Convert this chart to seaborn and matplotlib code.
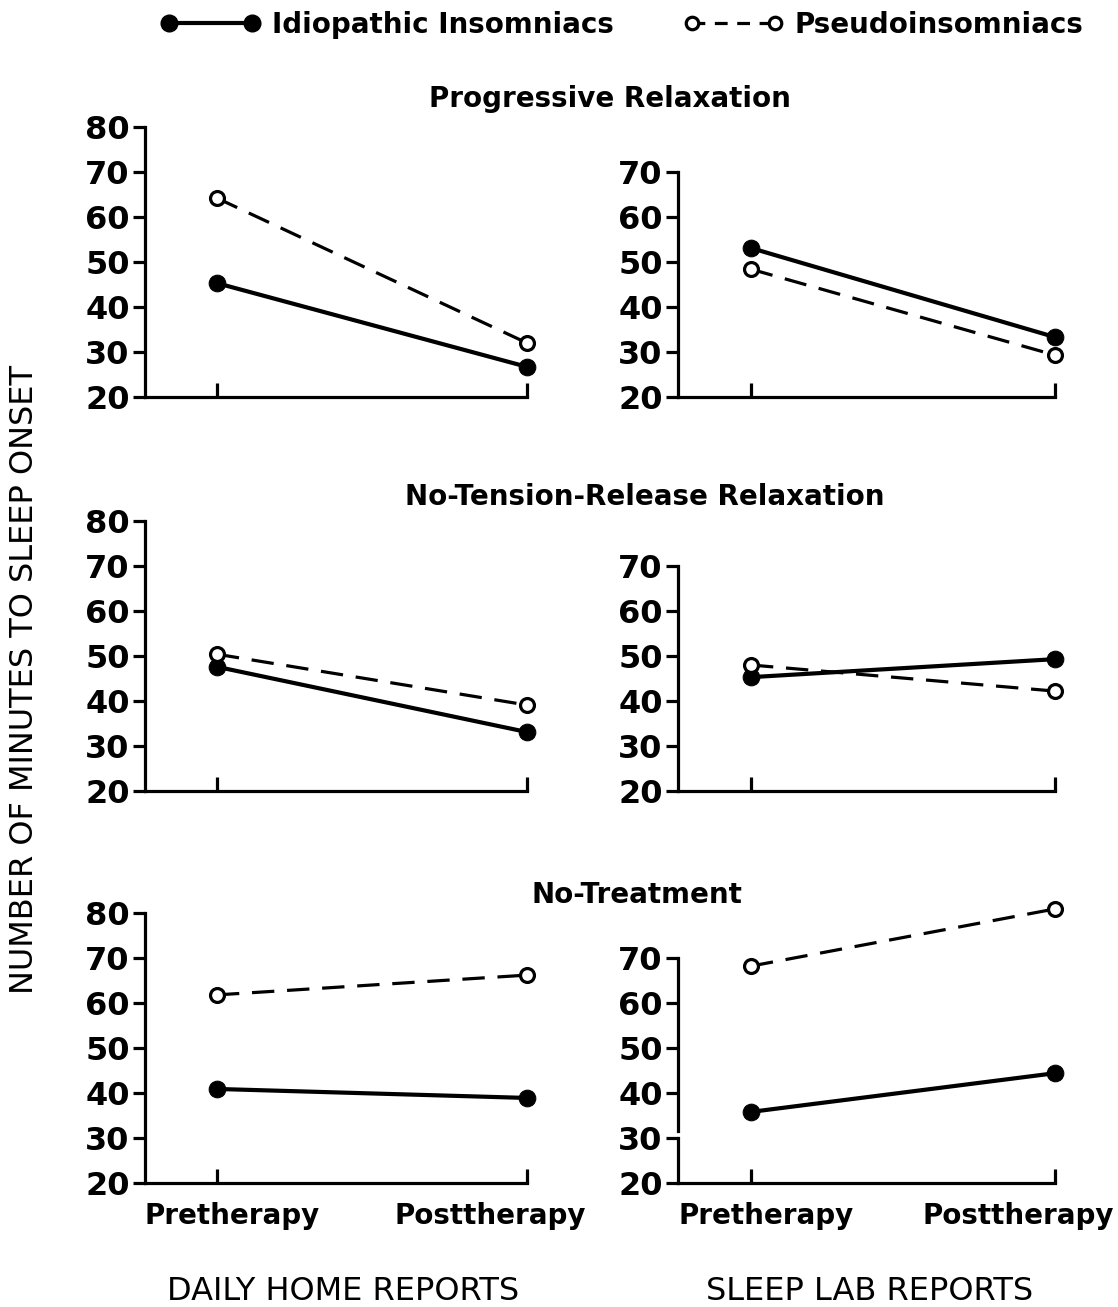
import numpy as np
import pandas as pd
import seaborn as sns
import matplotlib
matplotlib.use("Agg")
import matplotlib.pyplot as plt
import matplotlib.transforms as mtransforms
from matplotlib.lines import Line2D

sns.set_theme(style="white", rc={"text.color": "black", "xtick.color": "black",
                                 "ytick.color": "black", "axes.labelcolor": "black",
                                 "axes.edgecolor": "black"})
plt.rcParams['font.family'] = ['DejaVu Sans']

# ---------------- data ----------------
phases = ["Pretherapy", "Posttherapy"]
groups = ["Idiopathic Insomniacs", "Pseudoinsomniacs"]
conditions = ["Progressive Relaxation", "No-Tension-Release Relaxation", "No-Treatment"]
sources = ["DAILY HOME REPORTS", "SLEEP LAB REPORTS"]

pr_home_idio = [45.3, 26.7]
pr_home_pseudo = [64.2, 32.0]
pr_lab_idio = [53.1, 33.3]
pr_lab_pseudo = [48.4, 29.3]

ntr_home_idio = [47.6, 33.1]
ntr_home_pseudo = [50.4, 39.1]
ntr_lab_idio = [45.3, 49.3]
ntr_lab_pseudo = [48.0, 42.2]

nt_home_idio = [40.9, 38.9]
nt_home_pseudo = [61.8, 66.2]
nt_lab_idio = [35.8, 44.4]
nt_lab_pseudo = [68.2, 80.9]

left_ticks = [20, 30, 40, 50, 60, 70, 80]
right_ticks = [20, 30, 40, 50, 60, 70]
ylabel = "NUMBER OF MINUTES TO SLEEP ONSET"

panel_data = {
    (0, 0): (pr_home_idio, pr_home_pseudo),
    (0, 1): (pr_lab_idio, pr_lab_pseudo),
    (1, 0): (ntr_home_idio, ntr_home_pseudo),
    (1, 1): (ntr_lab_idio, ntr_lab_pseudo),
    (2, 0): (nt_home_idio, nt_home_pseudo),
    (2, 1): (nt_lab_idio, nt_lab_pseudo),
}

rows = []
for (r, c), (idio, pseudo) in panel_data.items():
    for g, vals in zip(groups, (idio, pseudo)):
        for i, v in enumerate(vals):
            rows.append(dict(row=r, col=c, group=g, phase=i, value=v))
df = pd.DataFrame(rows)

# ---------------- layout ----------------
W, H = 1118, 1307
fig = plt.figure(figsize=(W / 100, H / 100), dpi=100)

row_tops = [127, 521, 913]
row_h = 270
col_lr = [(145, 527), (678, 1055)]
xlims = [(-0.232, 1.0), (-0.24, 1.0)]

LW_SOLID = 3.0
LW_DASH = 2.3
SPINE_W = 2.3

axes = {}
for r in range(3):
    for c in range(2):
        l, rgt = col_lr[c]
        top = row_tops[r]
        ax = fig.add_axes([l / W, 1 - (top + row_h) / H, (rgt - l) / W, row_h / H])
        axes[(r, c)] = ax
        sub = df[(df.row == r) & (df.col == c)]
        for g in groups:
            d = sub[sub.group == g]
            sns.lineplot(data=d, x="phase", y="value", ax=ax, color="black",
                         marker="o", legend=False, errorbar=None)
            ln = ax.lines[-1]
            ln.set_clip_on(False)
            if g == groups[0]:
                ln.set_linewidth(LW_SOLID)
                ln.set_markersize(12)
                ln.set_markerfacecolor("black")
                ln.set_markeredgecolor("black")
            else:
                ln.set_linewidth(LW_DASH)
                ln.set_dashes((7, 4))
                ln.set_markersize(10)
                ln.set_markerfacecolor("white")
                ln.set_markeredgecolor("black")
                ln.set_markeredgewidth(2.3)
        ax.set_xlim(*xlims[c])
        ax.set_ylim(20, 80)
        ax.set_xlabel("")
        ax.set_ylabel("")
        ax.set_facecolor("none")
        for s in ["top", "right"]:
            ax.spines[s].set_visible(False)
        for s in ["left", "bottom"]:
            ax.spines[s].set_color("black")
            ax.spines[s].set_linewidth(SPINE_W)
        ticks = left_ticks if c == 0 else right_ticks
        ax.set_yticks(ticks)
        ax.set_yticklabels([str(t) for t in ticks], fontsize=23, fontweight="bold")
        ax.spines["left"].set_bounds(ticks[0], ticks[-1])
        ax.spines["bottom"].set_bounds(xlims[c][0], 1.0)
        ax.tick_params(axis="y", direction="out", length=9, width=SPINE_W,
                       color="black", pad=2, left=True)
        ax.set_xticks([0, 1])
        ax.tick_params(axis="x", direction="in", length=10, width=SPINE_W,
                       color="black", bottom=True)
        if r == 2:
            ax.set_xticklabels(phases, fontsize=20, fontweight="bold")
            ax.tick_params(axis="x", pad=14)
            labs = ax.get_xticklabels()
            offs = [15, -37]
            for lab, o in zip(labs, offs):
                lab.set_transform(lab.get_transform() +
                                  mtransforms.ScaledTranslation(o / 100, 0, fig.dpi_scale_trans))
        else:
            ax.set_xticklabels(["", ""])

# spine break in bottom-right panel
axb = axes[(2, 1)]
axb.spines["left"].set_bounds(31.6, 70)
trans = mtransforms.blended_transform_factory(axb.transAxes, axb.transData)
axb.add_line(Line2D([0, 0], [20, 30], transform=trans, color="black",
                    linewidth=SPINE_W, clip_on=False, solid_capstyle="projecting"))

# condition titles
title_pos = [(610, 99), (645, 497), (637, 895)]
for cond, (x, y) in zip(conditions, title_pos):
    fig.text(x / W, 1 - y / H, cond, ha="center", va="center",
             fontsize=20, fontweight="bold")

# source labels
fig.text(343 / W, 1 - 1292 / H, sources[0], ha="center", va="center", fontsize=23)
fig.text(870 / W, 1 - 1292 / H, sources[1], ha="center", va="center", fontsize=23)

# y label
fig.text(25 / W, 1 - 680 / H, ylabel, rotation=90, ha="center", va="center", fontsize=23)

# legend
h1 = Line2D([], [], color="black", linewidth=LW_SOLID, marker="o", markersize=12,
            markerfacecolor="black")
h2 = Line2D([], [], color="black", linewidth=LW_DASH, dashes=(4, 3), marker="o",
            markersize=9, markerfacecolor="white", markeredgewidth=2.3)
fig.legend([h1, h2], groups, loc="center", bbox_to_anchor=(622 / W, 1 - 25 / H),
           ncol=2, frameon=False, handlelength=3.6, columnspacing=2.5, numpoints=2,
           handletextpad=0.4, prop=dict(size=20, weight="bold"))

fig.savefig("out.png", dpi=100)
